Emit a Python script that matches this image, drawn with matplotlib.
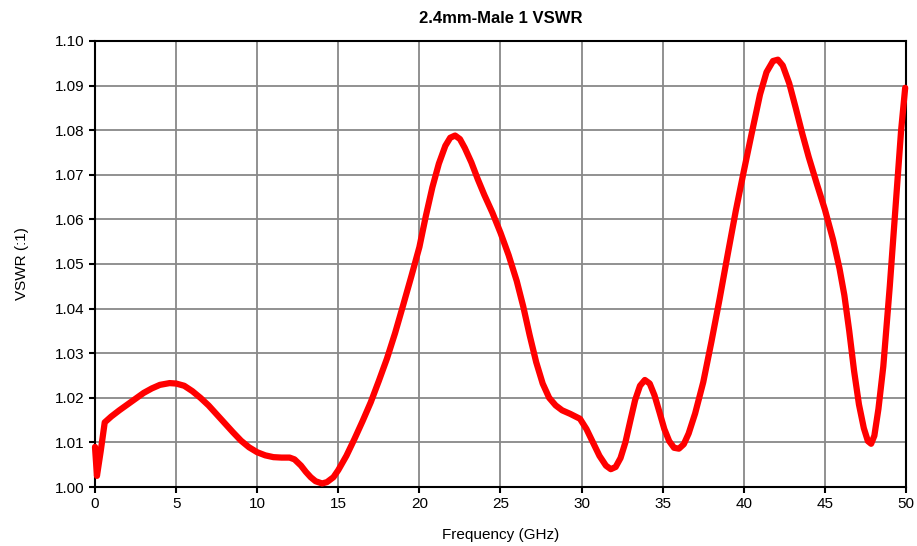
import matplotlib
matplotlib.use("Agg")
import matplotlib.pyplot as plt

# VSWR trace (frequency in GHz)
freq = [0, 0.12, 0.35, 0.6, 1.0, 1.5, 2.0, 2.5, 3.0, 3.5, 4.0, 4.6, 5.0,
        5.5, 6.0, 6.5, 7.0, 7.5, 8.0, 8.5, 9.0, 9.5, 10.0, 10.5, 11.0,
        11.5, 12.0, 12.3, 12.7, 13.0, 13.3, 13.6, 14.0, 14.3, 14.7, 15.0,
        15.5, 16.0, 16.5, 17.0, 17.5, 18.0, 18.5, 19.0, 19.5, 20.0, 20.4,
        20.8, 21.2, 21.6, 21.9, 22.2, 22.5, 22.8, 23.2, 23.6, 24.0, 24.5,
        25.0, 25.5, 26.0, 26.4, 26.8, 27.2, 27.6, 28.0, 28.4, 28.8, 29.3,
        29.9, 30.3, 30.7, 31.1, 31.5, 31.8, 32.1, 32.4, 32.7, 33.0, 33.3,
        33.6, 33.9, 34.2, 34.5, 34.8, 35.1, 35.4, 35.7, 36.0, 36.3, 36.6,
        37.0, 37.5, 38.0, 38.5, 39.0, 39.5, 40.0, 40.5, 41.0, 41.4, 41.8,
        42.1, 42.4, 42.8, 43.2, 43.6, 44.0, 44.5, 45.0, 45.5, 45.9, 46.2,
        46.5, 46.8, 47.1, 47.4, 47.65, 47.85, 48.05, 48.3, 48.6, 49.0,
        49.4, 49.7, 49.95]
vswr = [1.009, 1.0025, 1.008, 1.0145, 1.0158, 1.0172, 1.0185, 1.0198,
        1.0211, 1.0221, 1.0229, 1.0233, 1.0232, 1.0227, 1.0215, 1.0200,
        1.0183, 1.0163, 1.0143, 1.0123, 1.0104, 1.0089, 1.0078, 1.0071,
        1.0067, 1.0066, 1.0066, 1.0062, 1.0048, 1.0034, 1.0022, 1.0013,
        1.0008, 1.0011, 1.0022, 1.0038, 1.0070, 1.0108, 1.0148, 1.0190,
        1.0238, 1.0288, 1.0345, 1.0408, 1.0472, 1.0538, 1.0608, 1.0672,
        1.0725, 1.0765, 1.0783, 1.0788, 1.0780, 1.0760, 1.0728, 1.0690,
        1.0655, 1.0615, 1.0570, 1.0520, 1.0462, 1.0405, 1.0340, 1.0280,
        1.0232, 1.0200, 1.0183, 1.0172, 1.0164, 1.0153, 1.0130, 1.0100,
        1.0070, 1.0048, 1.0040, 1.0045, 1.0065, 1.0100, 1.0148, 1.0195,
        1.0227, 1.0240, 1.0232, 1.0205, 1.0168, 1.0130, 1.0103, 1.0088,
        1.0086, 1.0096, 1.0120, 1.0165, 1.0235, 1.0325, 1.0420, 1.0520,
        1.0618, 1.0708, 1.0795, 1.0880, 1.0930, 1.0955, 1.0958, 1.0945,
        1.0905, 1.0850, 1.0793, 1.0740, 1.0680, 1.0622, 1.0555, 1.0490,
        1.0430, 1.0350, 1.0260, 1.0185, 1.0132, 1.0103, 1.0097, 1.0115,
        1.0175, 1.0270, 1.0450, 1.0650, 1.0800, 1.0895]

xticks = list(range(0, 51, 5))
yticks = [1.00 + 0.01 * i for i in range(11)]

plt.rcParams['font.family'] = ['Liberation Sans', 'DejaVu Sans']

fig = plt.figure(figsize=(9.17, 5.46), dpi=100)
ax = fig.add_axes([0.1036, 0.108, 0.8844, 0.817])

ax.plot(freq, vswr, color='#ff0000', linewidth=4.5,
        solid_joinstyle='round', solid_capstyle='round', clip_on=False, zorder=3)

ax.set_xlim(0, 50)
ax.set_ylim(1.00, 1.10)
ax.set_xticks(xticks)
ax.set_yticks(yticks)
ax.set_yticklabels(['%.2f' % v for v in yticks])
ax.grid(True, color='#888888', linewidth=1.3)
ax.set_axisbelow(True)
for s in ax.spines.values():
    s.set_color('black')
    s.set_linewidth(1.5)
ax.tick_params(direction='out', length=4, width=1.5, labelsize=11)

ax.set_xlabel('Frequency (GHz)', fontsize=11, labelpad=12)
ax.set_ylabel('VSWR (:1)', fontsize=11, labelpad=19)
ax.set_title('2.4mm-Male 1 VSWR', fontsize=12, fontweight='bold', pad=13)

fig.savefig('out.png', dpi=100)
